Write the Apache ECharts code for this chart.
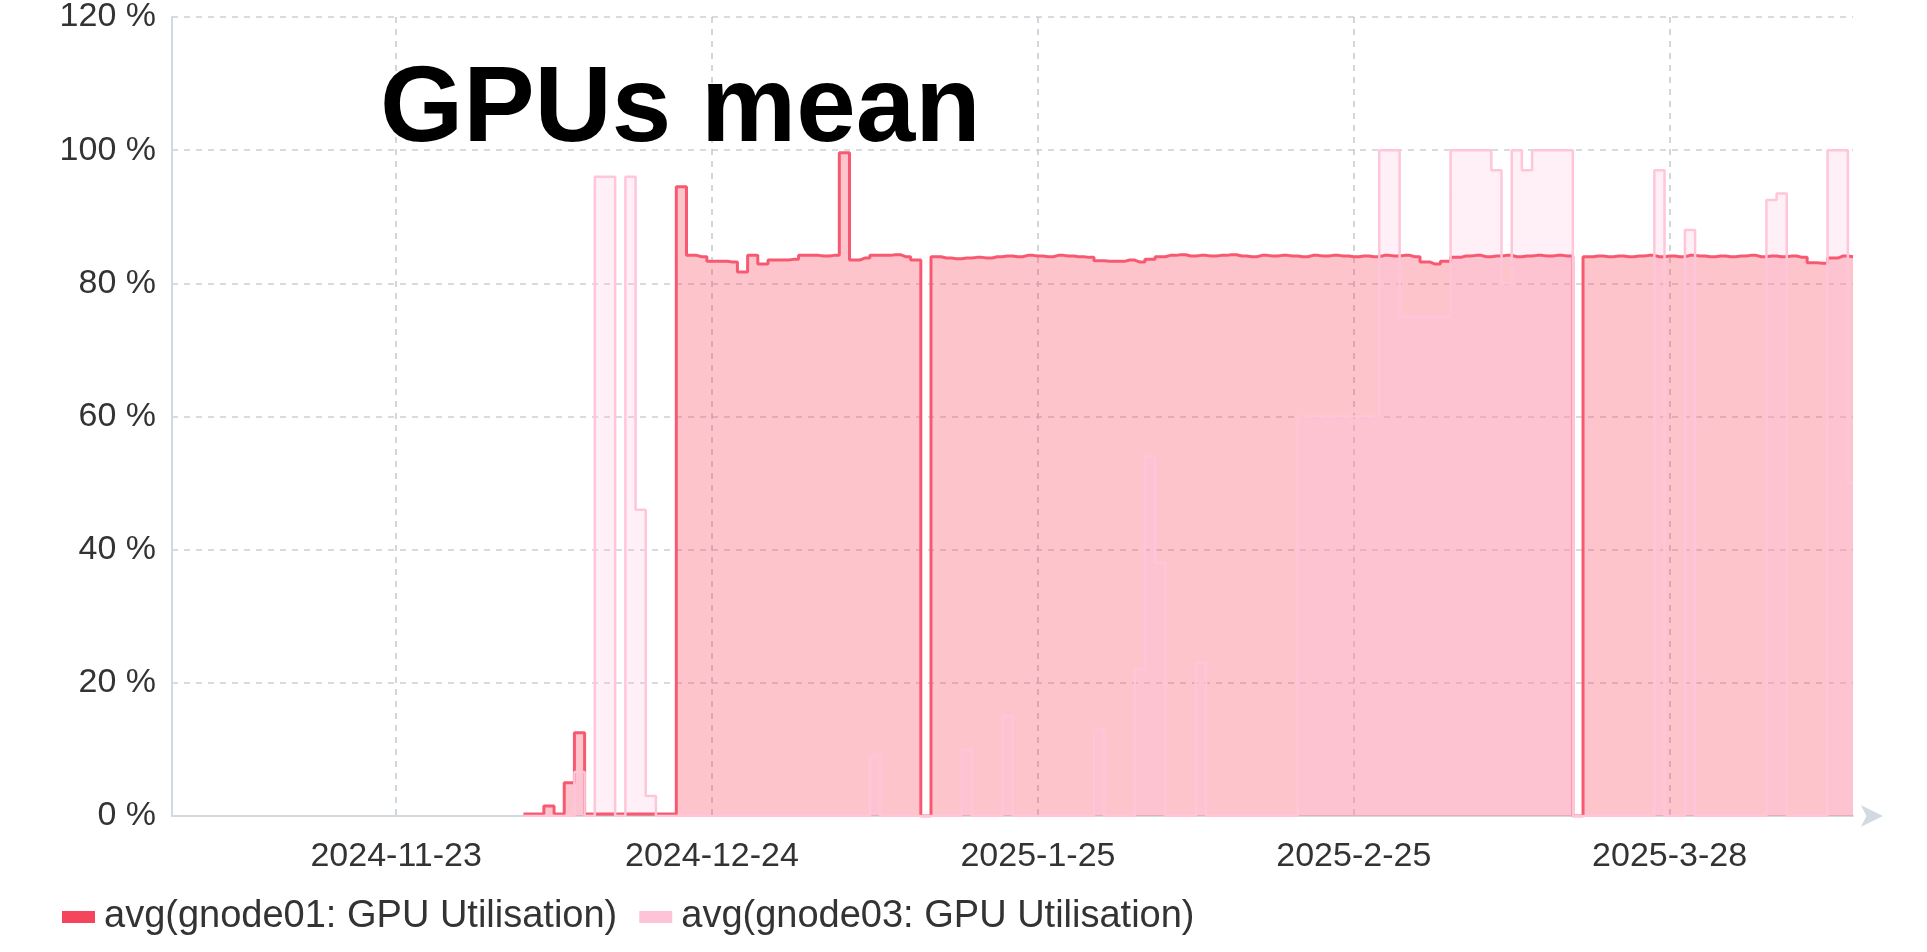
<!DOCTYPE html>
<html>
<head>
<meta charset="utf-8">
<title>GPUs mean</title>
<script src="https://cdn.jsdelivr.net/npm/echarts@6/dist/echarts.min.js"></script>
<style>
  html, body { margin: 0; padding: 0; background: #fff; }
  #chart { width: 1927px; height: 952px; }
</style>
</head>
<body>
<div id="chart"></div>
<script>
    // one sample per day, 2024-11-1 .. 2025-4-15
    var startDay = Date.UTC(2024, 10, 1);
    var dayCount = 166;
    var days = [];
    for (var i = 0; i < dayCount; i++) {
        var d = new Date(startDay + i * 86400000);
        days.push(d.getUTCFullYear() + '-' + (d.getUTCMonth() + 1) + '-' + d.getUTCDate());
    }

    var tickLabels = ['2024-11-23', '2024-12-24', '2025-1-25', '2025-2-25', '2025-3-28'];
    var yTicks = [0, 20, 40, 60, 80, 100, 120];

    var names = ['avg(gnode01: GPU Utilisation)', 'avg(gnode03: GPU Utilisation)'];

    // % values, one per day ('-' = no data yet)
    var gnode01 = [
        '-', '-', '-', '-', '-', '-', '-', '-', '-', '-',
        '-', '-', '-', '-', '-', '-', '-', '-', '-', '-',
        '-', '-', '-', '-', '-', '-', '-', '-', '-', '-',
        '-', '-', '-', '-', '-', 0.3, 0.3, 1.5, 0.3, 5,
        12.5, 0.3, 0.3, 0.3, 0.3, 0.3, 0.3, 0.3, 0.3, 0.3,
        94.5, 84.2, 84, 83.3, 83.3, 83.2, 81.7, 84.2, 82.9, 83.5,
        83.5, 83.6, 84.2, 84.2, 84.1, 84.2, 99.6, 83.5, 83.8, 84.2,
        84.2, 84.3, 84, 83.5, 0, 84, 83.8, 83.7, 83.8, 83.9,
        83.8, 84, 84.1, 84, 84.2, 84.1, 84, 84.2, 84.1, 84,
        83.9, 83.4, 83.3, 83.3, 83.5, 83.2, 83.6, 84, 84.2, 84.3,
        84.1, 84.2, 84.1, 84.2, 84.3, 84.1, 84, 84.2, 84.1, 84.2,
        84.1, 84, 84.2, 84.1, 84.2, 84.1, 84, 84.1, 84, 84.2,
        84.1, 84.2, 84, 83.2, 82.9, 83.3, 83.9, 84.1, 84.2, 84,
        84.1, 84.2, 84, 84.1, 84.2, 84.1, 84.2, 84.1, 0, 84,
        84.1, 84, 84.1, 84, 84.1, 84.2, 84, 84.1, 84, 84.2,
        84.1, 84, 84.1, 84, 84.1, 84.2, 84, 84.1, 84, 84.1,
        83.9, 83.1, 83, 83.8, 84.1, 84
    ];
    var gnode03 = [
        '-', '-', '-', '-', '-', '-', '-', '-', '-', '-',
        '-', '-', '-', '-', '-', '-', '-', '-', '-', '-',
        '-', '-', '-', '-', '-', '-', '-', '-', '-', '-',
        '-', '-', '-', '-', '-', 0, 0, 0, 0, 0,
        6.6, 0, 96, 96, 0, 96, 46, 3, 0, 0,
        0, 0, 0, 0, 0, 0, 0, 0, 0, 0,
        0, 0, 0, 0, 0, 0, 0, 0, 0, 9,
        0, 0, 0, 0, 0, 0, 0, 0, 10, 0,
        0, 0, 15, 0, 0, 0, 0, 0, 0, 0,
        0, 13, 0, 0, 0, 22, 54, 38, 0, 0,
        0, 23, 0, 0, 0, 0, 0, 0, 0, 0,
        0, 60, 60, 60, 60, 60, 60, 60, 60, 100,
        100, 75, 75, 75, 75, 75, 100, 100, 100, 100,
        97, 80, 100, 97, 100, 100, 100, 100, 0, 0,
        0, 0, 0, 0, 0, 0, 97, 0, 0, 88,
        0, 0, 0, 0, 0, 0, 0, 92.5, 93.5, 0,
        0, 0, 0, 100, 100, 50
    ];

    var font = "'Liberation Sans', Arial, sans-serif";
    var myChart = echarts.init(document.getElementById('chart'));

    function showTick(index, value) {
        return tickLabels.indexOf(value) >= 0;
    }

    option = {
        animation: false,
        title: {
            text: 'GPUs mean',
            left: 375,
            top: 53,
            textStyle: { fontSize: 107, fontWeight: 'bold', color: '#000', fontFamily: font }
        },
        legend: {
            data: names,
            left: 57,
            top: 893,
            icon: 'rect',
            itemWidth: 33,
            itemHeight: 12,
            itemGap: 22,
            textStyle: { fontSize: 38, color: '#333', fontFamily: font, padding: [0, 0, 0, 4] }
        },
        grid: {
            left: 172,
            right: 74,
            top: 17,
            bottom: 136
        },
        xAxis: {
            type: 'category',
            data: days,
            boundaryGap: false,
            axisLine: {
                lineStyle: { color: '#d3d9e0', width: 2 },
                symbol: ['none', 'arrow'],
                symbolSize: [16, 22],
                symbolOffset: [0, 30]
            },
            axisTick: { show: false },
            axisLabel: {
                interval: showTick,
                margin: 24,
                fontSize: 34,
                color: '#333',
                fontFamily: font
            },
            splitLine: {
                show: true,
                interval: showTick,
                lineStyle: { type: [6, 6], color: '#c4cad1', width: 1.5 }
            }
        },
        yAxis: {
            type: 'value',
            min: yTicks[0],
            max: yTicks[yTicks.length - 1],
            interval: 20,
            axisLine: { show: true, lineStyle: { color: '#d3d9e0', width: 2 } },
            axisTick: { show: false },
            axisLabel: {
                formatter: '{value} %',
                margin: 16,
                fontSize: 34,
                color: '#333',
                fontFamily: font
            },
            splitLine: {
                lineStyle: { type: [6, 6], color: '#cbd1d8', width: 1.5 }
            }
        },
        series: [
            {
                name: names[0],
                type: 'line',
                step: 'middle',
                showSymbol: false,
                color: '#f5455c',
                lineStyle: { width: 3, color: '#f75a70' },
                areaStyle: { color: 'rgba(250,60,85,0.3)', opacity: 1 },
                data: gnode01
            },
            {
                name: names[1],
                type: 'line',
                step: 'middle',
                showSymbol: false,
                color: '#ffc3d7',
                lineStyle: { width: 2.5, color: '#ffc6d9' },
                areaStyle: { color: 'rgba(255,190,225,0.25)', opacity: 1 },
                data: gnode03
            }
        ]
    };

    myChart.setOption(option);
</script>
</body>
</html>
